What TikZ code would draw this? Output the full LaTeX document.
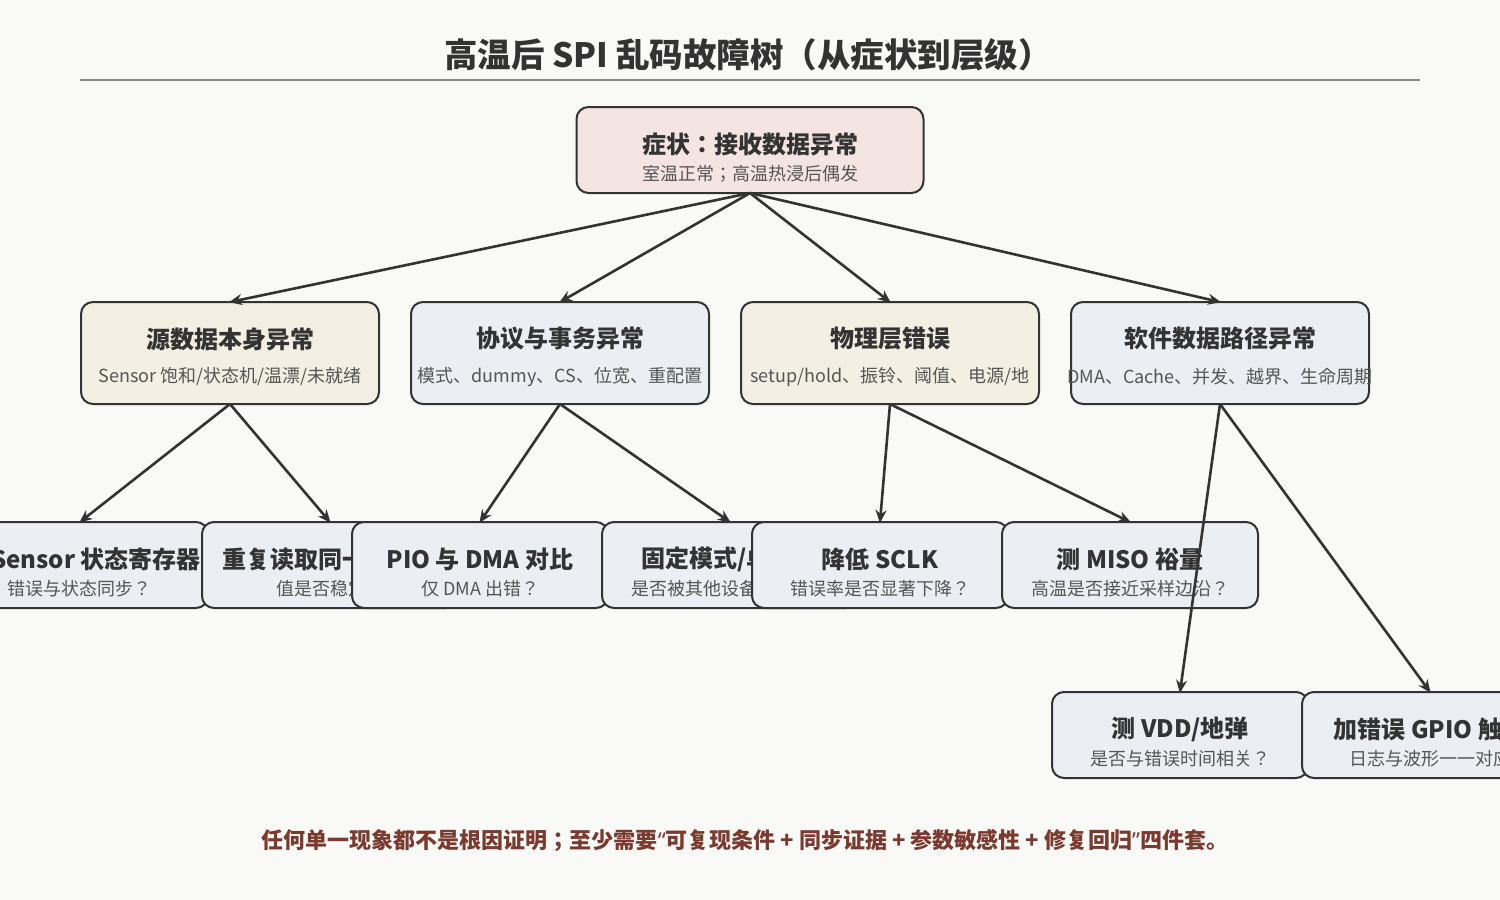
\documentclass[tikz,border=0pt]{standalone}
\usepackage{fontspec}
\setmainfont{Noto Sans CJK JP}
\newfontfamily\quotefont{Noto Sans}
\usetikzlibrary{arrows.meta,calc}
\definecolor{bg}{HTML}{F9F9F7}
\definecolor{pinkf}{HTML}{F5E5E2}
\definecolor{beigef}{HTML}{F3EFE3}
\definecolor{bluef}{HTML}{EBEEF2}
\definecolor{ink}{HTML}{333333}
\definecolor{subink}{HTML}{555555}
\definecolor{rule}{HTML}{888888}
\definecolor{note}{HTML}{7A3A30}
\newcommand\treebox[8]{%
  \node[tbox, fill=#5, minimum width=#3, minimum height=#4] (#1) at #2 {};
  \node[ttitle] (#1-t) at ($(#1.center)+(0,#8)$) {#6};
  \node[tsub] (#1-s) at ($(#1.center)+(0,24)$) {#7};
}
\begin{document}
\begin{tikzpicture}[x=1pt,y=-1pt,
  tbox/.style={draw=ink, line width=2pt, rounded corners=12pt, inner sep=0pt, outer sep=0pt},
  ttitle/.style={inner sep=0pt, text=ink, font=\fontsize{24}{28}\selectfont\bfseries},
  tsub/.style={inner sep=0pt, text=subink, font=\fontsize{18}{22}\selectfont},
  arr/.style={draw=ink, line width=2.6pt, -{Stealth[length=13pt,width=11pt]}, shorten >=-1pt}]
\path[use as bounding box, fill=bg] (0,0) rectangle (1500,900);
\node[inner sep=0pt, text=ink, font=\fontsize{33.5}{40}\selectfont\bfseries] (title) at (748,55) {高温后 SPI 乱码故障树（从症状到层级）};
\coordinate (ruleL) at (80,80);
\coordinate (ruleR) at (1420,80);
\draw[rule, line width=1.5pt] (ruleL) -- (ruleR);

\treebox{root}{(750,150)}{347}{86}{pinkf}{症状：接收数据异常}{室温正常；高温热浸后偶发}{-6}

\treebox{a}{(230,353)}{298}{102}{beigef}{源数据本身异常}{Sensor 饱和/状态机/温漂/未就绪}{-14}
\treebox{b}{(560,353)}{298}{102}{bluef}{协议与事务异常}{模式、dummy、CS、位宽、重配置}{-14}
\treebox{c}{(890,353)}{298}{102}{beigef}{物理层错误}{setup/hold、振铃、阈值、电源/地}{-14}
\treebox{d}{(1220,353)}{298}{102}{bluef}{软件数据路径异常}{DMA、Cache、并发、越界、生命周期}{-14}

\node[tbox, fill=bluef, minimum width=256, minimum height=86] (a1) at (80,565) {};
\node[ttitle] (a1-t) at (96,559) {Sensor 状态寄存器};
\node[tsub] (a1-s) at (80,589) {错误与状态同步？};
\treebox{a2}{(330,565)}{256}{86}{bluef}{重复读取同一寄存器}{值是否稳定？}{-6}
\treebox{b1}{(480,565)}{256}{86}{bluef}{PIO 与 DMA 对比}{仅 DMA 出错？}{-6}
\treebox{b2}{(730,565)}{256}{86}{bluef}{固定模式/单设备}{是否被其他设备干扰了？}{-6}
\treebox{c1}{(880,565)}{256}{86}{bluef}{降低 SCLK}{错误率是否显著下降？}{-6}
\treebox{c2}{(1130,565)}{256}{86}{bluef}{测 MISO 裕量}{高温是否接近采样边沿？}{-6}

\treebox{d1}{(1180,735)}{256}{86}{bluef}{测 VDD/地弹}{是否与错误时间相关？}{-6}
\treebox{d2}{(1430,735)}{256}{86}{bluef}{加错误 GPIO 触发}{日志与波形一一对应}{-6}

\foreach \s/\t in {root/a,root/b,root/c,root/d,a/a1,a/a2,b/b1,b/b2,c/c1,c/c2,d/d1,d/d2}
  \draw[arr] (\s.south) -- (\t.north);

\node[inner sep=0pt, text=note, font=\fontsize{22}{26}\selectfont\bfseries] (foot) at (745,841) {任何单一现象都不是根因证明；至少需要{\quotefont “}可复现条件 + 同步证据 + 参数敏感性 + 修复回归{\quotefont ”}四件套。};
\end{tikzpicture}
\end{document}
